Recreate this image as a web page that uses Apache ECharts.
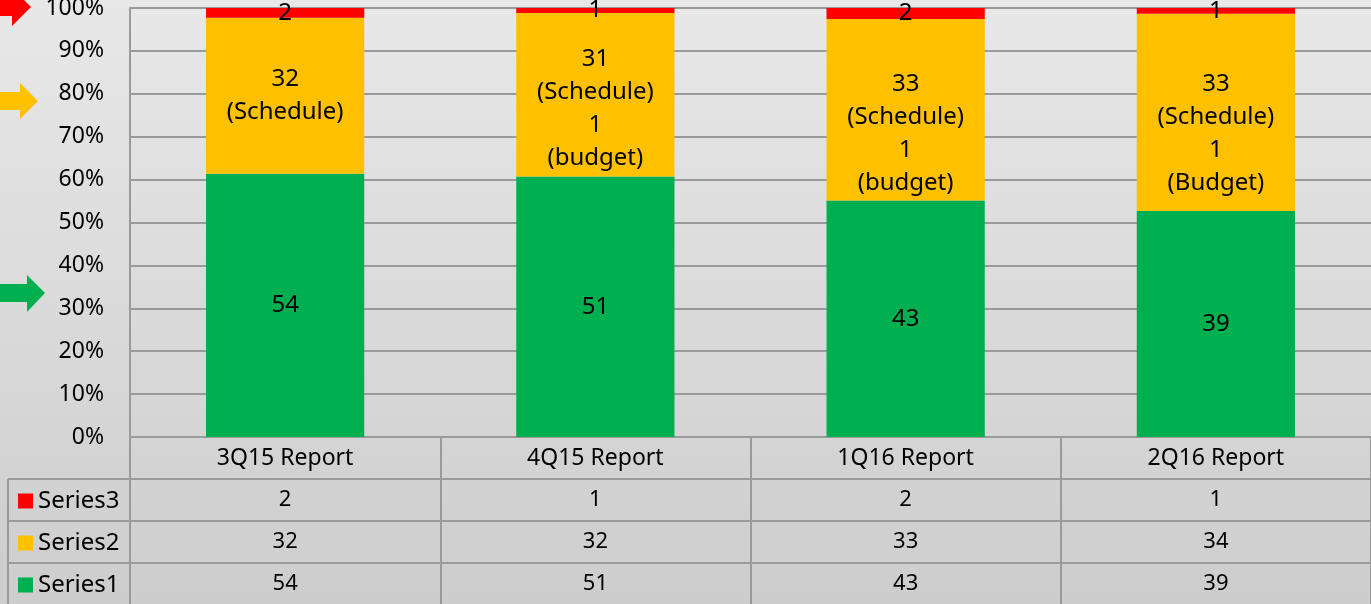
<!DOCTYPE html>
<html>
<head>
<meta charset="utf-8">
<script src="https://cdn.jsdelivr.net/npm/echarts@6/dist/echarts.min.js"></script>
<style>
  html, body { margin: 0; padding: 0; }
  #main { width: 1371px; height: 604px; }
</style>
</head>
<body>
<div id="main"></div>
<script>
// data
const categories = ['3Q15 Report', '4Q15 Report', '1Q16 Report', '2Q16 Report'];
const series1 = [54, 51, 43, 39];
const series2 = [32, 32, 33, 34];
const series3 = [2, 1, 2, 1];
const series2Labels = [
  '32\n(Schedule)',
  '31\n(Schedule)\n1\n(budget)',
  '33\n(Schedule)\n1\n(budget)',
  '33\n(Schedule)\n1\n(Budget)'
];
const yMin = 0, yMax = 100, yStep = 10;

// styling
const FONT = 'Noto Sans';
const LINE = '#9a9a9a';
const COLORS = { s1: '#00b050', s2: '#ffc000', s3: '#ff0000' };
const ROW_H = 42;
const s2LabelShift = [0, 14, 24, 21];

const totals = series1.map((v, i) => v + series2[i] + series3[i]);
const pct = arr => arr.map((v, i) => v / totals[i] * 100);

let chart = echarts.init(document.getElementById('main'));

function tableAxis(offset, values, size) {
  return {
    type: 'category',
    data: categories,
    position: 'bottom',
    offset: offset,
    axisLine: { lineStyle: { color: LINE, width: 2 } },
    axisTick: { show: true, length: ROW_H, lineStyle: { color: LINE, width: 2 } },
    axisLabel: {
      fontFamily: FONT, fontSize: size, color: '#000',
      verticalAlign: 'middle', margin: ROW_H / 2,
      formatter: (v, i) => values ? String(values[i]) : v
    },
    splitLine: { show: false }
  };
}

// one legend per table row, so each sits in its own row header
function rowLegend(name, top) {
  return {
    orient: 'vertical',
    left: 18,
    top: top,
    padding: 0,
    icon: 'rect',
    itemWidth: 15,
    itemHeight: 15,
    selectedMode: false,
    data: [name],
    textStyle: { fontFamily: FONT, fontSize: 24, color: '#000', lineHeight: 22 }
  };
}

let option = {
  backgroundColor: new echarts.graphic.LinearGradient(0, 0, 0, 1, [
    { offset: 0, color: '#e8e8e8' },
    { offset: 1, color: '#cdcdcd' }
  ]),
  animation: false,
  textStyle: { fontFamily: FONT },
  grid: { left: 130, right: 0, top: 8, bottom: 167, outerBoundsMode: 'none', containLabel: false },
  legend: [
    rowLegend('Series3', 489),
    rowLegend('Series2', 531),
    rowLegend('Series1', 573)
  ],
  xAxis: [
    tableAxis(0, null, 23),
    tableAxis(ROW_H, series3, 22),
    tableAxis(ROW_H * 2, series2, 22),
    tableAxis(ROW_H * 3, series1, 22)
  ],
  yAxis: {
    type: 'value',
    min: yMin,
    max: yMax,
    interval: yStep,
    axisLine: { show: true, lineStyle: { color: LINE, width: 2 } },
    axisTick: { show: false },
    axisLabel: { fontFamily: FONT, fontSize: 23, color: '#000', margin: 26, formatter: '{value}%' },
    splitLine: { lineStyle: { color: LINE, width: 2 } }
  },
  series: [
    {
      name: 'Series1', type: 'bar', stack: 'total', barWidth: '51%',
      itemStyle: { color: COLORS.s1 },
      label: {
        show: true, position: 'inside', fontFamily: FONT, fontSize: 24, color: '#000',
        formatter: p => String(series1[p.dataIndex])
      },
      data: pct(series1)
    },
    {
      name: 'Series2', type: 'bar', stack: 'total',
      itemStyle: { color: COLORS.s2 },
      label: {
        show: true, position: 'inside', fontFamily: FONT, fontSize: 24, color: '#000', lineHeight: 33,
        formatter: p => series2Labels[p.dataIndex]
      },
      data: pct(series2).map((v, i) => ({ value: v, label: { offset: [0, s2LabelShift[i]] } }))
    },
    {
      name: 'Series3', type: 'bar', stack: 'total',
      itemStyle: { color: COLORS.s3 },
      label: {
        show: true, position: 'inside', fontFamily: FONT, fontSize: 24, color: '#000',
        formatter: p => String(series3[p.dataIndex])
      },
      data: pct(series3)
    }
  ],
  graphic: [
    // left column of the data table
    { type: 'line', shape: { x1: 8, y1: 479, x2: 8, y2: 604 }, style: { stroke: LINE, lineWidth: 2 } },
    { type: 'line', shape: { x1: 8, y1: 479, x2: 130, y2: 479 }, style: { stroke: LINE, lineWidth: 2 } },
    { type: 'line', shape: { x1: 8, y1: 521, x2: 130, y2: 521 }, style: { stroke: LINE, lineWidth: 2 } },
    { type: 'line', shape: { x1: 8, y1: 563, x2: 130, y2: 563 }, style: { stroke: LINE, lineWidth: 2 } },
    // arrows
    { type: 'polygon', shape: { points: [[0, -2], [12, -2], [12, -12], [31, 7], [12, 26], [12, 16], [0, 16]] }, style: { fill: COLORS.s3 } },
    { type: 'polygon', shape: { points: [[0, 92], [20, 92], [20, 83], [38, 101], [20, 119], [20, 110], [0, 110]] }, style: { fill: COLORS.s2 } },
    { type: 'polygon', shape: { points: [[0, 284], [27, 284], [27, 275], [45, 293], [27, 312], [27, 302], [0, 302]] }, style: { fill: COLORS.s1 } }
  ]
};

chart.setOption(option);
</script>
</body>
</html>
